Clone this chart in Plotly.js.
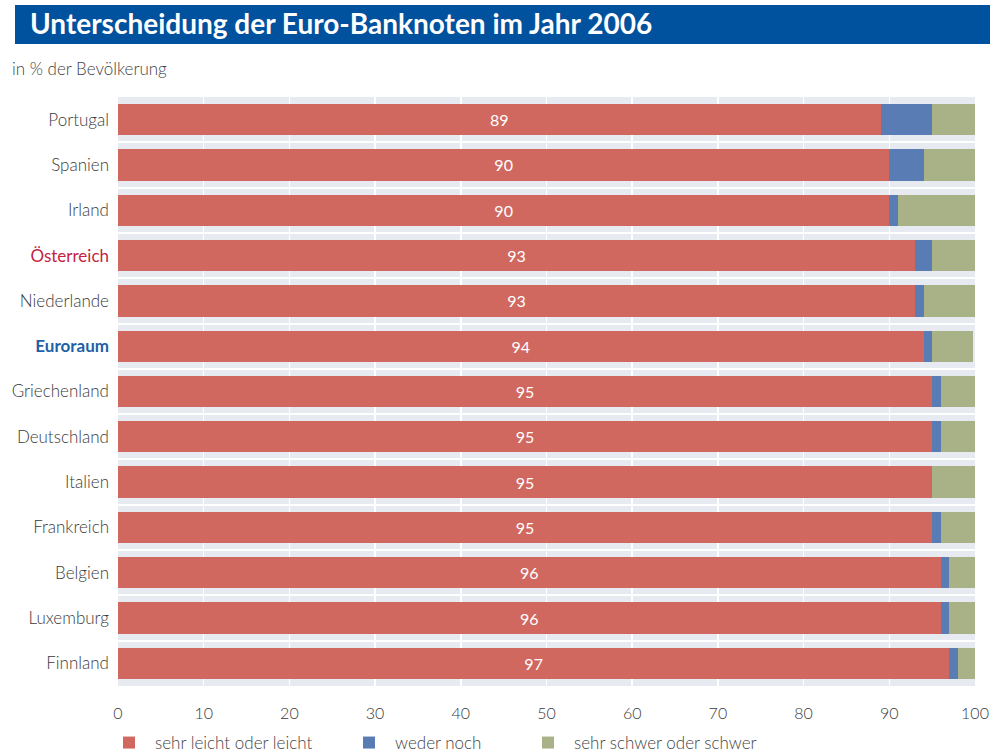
<!DOCTYPE html>
<html>
<head>
<meta charset="utf-8">
<script src="https://cdn.plot.ly/plotly-3.0.1.min.js"></script>
<style>body{margin:0;padding:0;background:#fff;} #chart{width:999px;height:753px;}</style>
</head>
<body>
<div id="chart"></div>
<script>
const countries = ["Portugal","Spanien","Irland","Österreich","Niederlande","Euroraum","Griechenland","Deutschland","Italien","Frankreich","Belgien","Luxemburg","Finnland"];
const tickLabels = ["Portugal","Spanien","Irland","<span style='color:#c41f3e;font-weight:400'>Österreich</span>","Niederlande","<span style='color:#1f5fa6;font-weight:700'>Euroraum</span>","Griechenland","Deutschland","Italien","Frankreich","Belgien","Luxemburg","Finnland"];
const leicht = [89,90,90,93,93,94,95,95,95,95,96,96,97];
const weder = [6,4,1,2,1,1,1,1,0,1,1,1,1];
const schwer = [5,6,9,5,6,4.8,4,4,5,4,3,3,2];
const xTicks = [0,10,20,30,40,50,60,70,80,90,100];

const FONT = "Lato, 'Open Sans', sans-serif";
const W = 999, H = 753, L = 118, R = 975, T = 97, B = 686;
const px2x = p => (p - L) / (R - L);
const px2y = p => (B - p) / (B - T);

const traces = [
  {type:'bar', orientation:'h', y:countries, x:leicht, name:'sehr leicht oder leicht',
   marker:{color:'#d0685f'}, text:leicht.map(String), textposition:'inside', insidetextanchor:'middle',
   textfont:{color:'#ffffff', size:16, family:FONT}, hoverinfo:'skip', legend:'legend'},
  {type:'bar', orientation:'h', y:countries, x:weder, name:'weder noch',
   marker:{color:'#5a7cb5'}, textposition:'none', hoverinfo:'skip', legend:'legend2'},
  {type:'bar', orientation:'h', y:countries, x:schwer, name:'sehr schwer oder schwer',
   marker:{color:'#a9b287'}, textposition:'none', hoverinfo:'skip', legend:'legend3'}
];

const legBase = {orientation:'h', yanchor:'middle', xanchor:'left', bgcolor:'rgba(0,0,0,0)',
  itemwidth:42, font:{family:FONT, size:17, color:'#444', weight:300}, itemclick:false, itemdoubleclick:false};

const layout = {
  width:W, height:H,
  margin:{l:L, r:W-R, t:T, b:H-B, pad:0, autoexpand:false},
  barmode:'stack', bargap:0.31,
  paper_bgcolor:'#ffffff', plot_bgcolor:'#e8eaf2',
  font:{family:FONT, color:'#3a3a3a'},
  title:{text:'<b>Unterscheidung der Euro-Banknoten im Jahr 2006</b>', x:30/W, xanchor:'left',
         xref:'container', yref:'container', y:1-24/H, yanchor:'middle',
         font:{family:FONT, size:28, color:'#ffffff'}},
  xaxis:{range:[0,100], tickmode:'array', tickvals:xTicks, ticktext:xTicks.map(String),
         showgrid:true, gridcolor:'#ffffff', gridwidth:1.5, zeroline:false, showline:false,
         ticks:'', ticklabelstandoff:16, tickfont:{family:FONT, size:16, color:'#3a3a3a', weight:300}, fixedrange:true},
  yaxis:{type:'category', autorange:'reversed', tickmode:'array', tickvals:countries, ticktext:tickLabels,
         tickson:'boundaries', showgrid:true, gridcolor:'#ffffff', gridwidth:2, zeroline:false, showline:false,
         ticks:'', ticklabelstandoff:8, tickfont:{family:FONT, size:17, color:'#3a3a3a', weight:300}, fixedrange:true},
  shapes:[{type:'rect', xref:'paper', yref:'paper', x0:px2x(15), x1:px2x(990), y0:px2y(44), y1:px2y(5),
           fillcolor:'#00519e', line:{width:0}, layer:'below'}],
  annotations:[{text:'in % der Bevölkerung', xref:'paper', yref:'paper', x:px2x(10), y:px2y(68),
                xanchor:'left', yanchor:'middle', showarrow:false, font:{family:FONT, size:17, color:'#444', weight:300}}],
  showlegend:true,
  legend:Object.assign({}, legBase, {x:px2x(103), y:px2y(743)}),
  legend2:Object.assign({}, legBase, {x:px2x(343), y:px2y(743)}),
  legend3:Object.assign({}, legBase, {x:px2x(522), y:px2y(743)})
};

Plotly.newPlot('chart', traces, layout, {displayModeBar:false, staticPlot:true});
</script>
</body>
</html>
